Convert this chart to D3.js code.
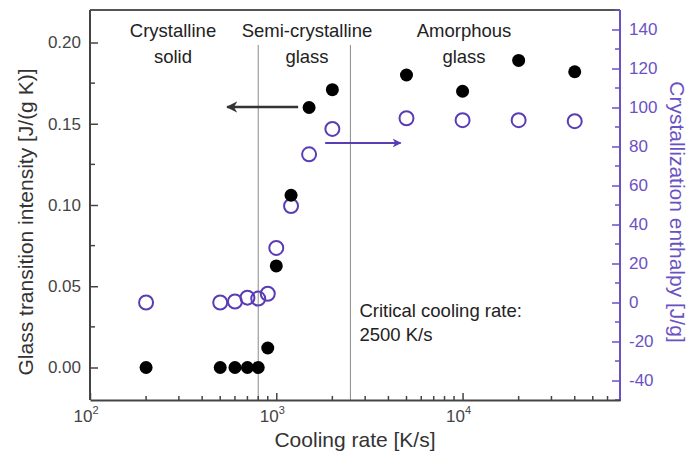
<!DOCTYPE html>
<html><head><meta charset="utf-8">
<script src="https://cdn.jsdelivr.net/npm/d3@7"></script>
<style>
body{margin:0;background:#fff;}
svg{display:block;font-family:"Liberation Sans",Arial,sans-serif;}
</style></head>
<body>
<svg id="chart" width="688" height="463"></svg>
<script>
// ---- data ----
const coolingRates   = [200, 500, 600, 700, 800, 900, 1000, 1200, 1500, 2000, 5000, 10000, 20000, 40000];
const glassIntensity = [0, 0, 0, 0, 0, 0.012, 0.0625, 0.106, 0.160, 0.171, 0.180, 0.170, 0.189, 0.182];
const crystEnthalpy  = [0, 0, 0.5, 2.5, 2, 4.5, 28, 49.5, 76, 89, 94.5, 93.5, 93.5, 93];
const leftTicks  = [0, 0.05, 0.10, 0.15, 0.20];
const leftMinor  = [0.025, 0.075, 0.125, 0.175];
const rightTicks = [-40, -20, 0, 20, 40, 60, 80, 100, 120, 140];
const rightMinor = [-50, -30, -10, 10, 30, 50, 70, 90, 110, 130, 150];
const xMajor = [100, 1000, 10000];
const xLabels = [{base:"10", exp:"2"}, {base:"10", exp:"3"}, {base:"10", exp:"4"}];
const boundaries = [800, 2500];
const regionLabels = [
  {lines:["Crystalline","solid"], x:173},
  {lines:["Semi-crystalline","glass"], x:307},
  {lines:["Amorphous","glass"], x:464}
];

const purple = "#5a3cb4";
const axisPurple = "#6b52c2";

const svg = d3.select("#chart");
const M = {l:90, r:620, t:10, b:400};

const x = d3.scaleLog().domain([100, 70000]).range([M.l, M.r]);
const yL = d3.scaleLinear().domain([-0.02, 0.22]).range([M.b, M.t]);
const yR = d3.scaleLinear().domain([-50, 150]).range([M.b, M.t]);

// boundary lines
svg.selectAll("line.bound").data(boundaries).enter().append("line")
  .attr("x1", d => x(d)).attr("x2", d => x(d))
  .attr("y1", yL(0.1985)).attr("y2", M.b)
  .attr("stroke", "#8a8a8a").attr("stroke-width", 1);

// frame top
svg.append("line").attr("x1", M.l).attr("x2", M.r).attr("y1", M.t).attr("y2", M.t)
  .attr("stroke", "#555").attr("stroke-width", 2);

// left axis
const gL = svg.append("g").attr("transform", `translate(${M.l},0)`)
  .call(d3.axisLeft(yL).tickValues(leftTicks).tickFormat(d3.format(".2f")).tickSize(-8).tickPadding(9).tickSizeOuter(0));
gL.select(".domain").attr("stroke", "#444").attr("stroke-width", 2).attr("d", `M0,${M.t}V${M.b}`);
gL.selectAll(".tick line").attr("stroke", "#444").attr("stroke-width", 1.5);
gL.selectAll(".tick text").attr("font-size", 17).attr("fill", "#444").attr("font-family", "Liberation Sans, Arial, sans-serif");
gL.selectAll("line.minor").data(leftMinor).enter().append("line").attr("class","minor")
  .attr("x1", 0).attr("x2", 5).attr("y1", d => yL(d)).attr("y2", d => yL(d))
  .attr("stroke", "#444").attr("stroke-width", 1.5);

// right axis
const gR = svg.append("g").attr("transform", `translate(${M.r},0)`)
  .call(d3.axisRight(yR).tickValues(rightTicks).tickFormat(d => String(d)).tickSize(-8).tickPadding(9).tickSizeOuter(0));
gR.select(".domain").attr("stroke", axisPurple).attr("stroke-width", 2).attr("d", `M0,${M.t}V${M.b+1}`);
gR.selectAll(".tick line").attr("stroke", axisPurple).attr("stroke-width", 1.5);
gR.selectAll(".tick text").attr("font-size", 17).attr("fill", axisPurple).attr("font-family", "Liberation Sans, Arial, sans-serif");
gR.selectAll("line.minor").data(rightMinor).enter().append("line").attr("class","minor")
  .attr("x1", 0).attr("x2", -5).attr("y1", d => yR(d)).attr("y2", d => yR(d))
  .attr("stroke", axisPurple).attr("stroke-width", 1.5);

// bottom axis
const xMinor = [];
[100, 1000, 10000].forEach(dec => { for (let k = 2; k <= 9; k++) { const v = dec*k; if (v < 70000) xMinor.push(v); } });
const gB = svg.append("g").attr("transform", `translate(0,${M.b})`)
  .call(d3.axisBottom(x).tickValues(xMajor).tickFormat("").tickSize(-7).tickSizeOuter(0));
gB.select(".domain").attr("stroke", "#444").attr("stroke-width", 2);
gB.selectAll(".tick line").attr("stroke", "#444").attr("stroke-width", 1.5);
gB.selectAll("line.minor").data(xMinor).enter().append("line").attr("class","minor")
  .attr("x1", d => x(d)).attr("x2", d => x(d)).attr("y1", 0).attr("y2", -4)
  .attr("stroke", "#444").attr("stroke-width", 1.5);
const xt = gB.selectAll("text.xl").data(xMajor).enter().append("text").attr("class","xl")
  .attr("x", d => x(d) - 4).attr("y", 22).attr("text-anchor", "middle")
  .attr("font-size", 17).attr("fill", "#444");
xt.append("tspan").text((d,i) => xLabels[i].base);
xt.append("tspan").attr("dy", -8).attr("font-size", 11).text((d,i) => xLabels[i].exp);

// axis titles
svg.append("text").attr("transform", `translate(33,222) rotate(-90)`)
  .attr("text-anchor", "middle").attr("font-size", 21).attr("fill", "#333")
  .text("Glass transition intensity [J/(g K)]");
svg.append("text").attr("transform", `translate(670,212) rotate(90)`)
  .attr("text-anchor", "middle").attr("font-size", 21).attr("fill", axisPurple)
  .text("Crystallization enthalpy [J/g]");
svg.append("text").attr("x", 355).attr("y", 447)
  .attr("text-anchor", "middle").attr("font-size", 21).attr("fill", "#333")
  .text("Cooling rate [K/s]");

// region labels
regionLabels.forEach(r => {
  r.lines.forEach((ln, i) => {
    svg.append("text").attr("x", r.x).attr("y", 37 + i*26).attr("text-anchor", "middle")
      .attr("font-size", 18.5).attr("fill", "#222").text(ln);
  });
});

// critical cooling rate text
svg.append("text").attr("x", x(2500) + 9).attr("y", 317).attr("font-size", 18.5).attr("fill", "#222").text("Critical cooling rate:");
svg.append("text").attr("x", x(2500) + 9).attr("y", 341).attr("font-size", 18.5).attr("fill", "#222").text("2500 K/s");

// arrows
const defs = svg.append("defs");
function marker(id, color) {
  defs.append("marker").attr("id", id).attr("viewBox", "0 0 10 10").attr("refX", 9).attr("refY", 5)
    .attr("markerWidth", 4.5).attr("markerHeight", 4.5).attr("orient", "auto")
    .append("path").attr("d", "M0,0L10,5L0,10L3,5Z").attr("fill", color);
}
marker("ab", "#333");
marker("ap", purple);
svg.append("line").attr("x1", x(1310)).attr("x2", x(545)).attr("y1", yL(0.1603)).attr("y2", yL(0.1603))
  .attr("stroke", "#333").attr("stroke-width", 2.5).attr("marker-end", "url(#ab)");
svg.append("line").attr("x1", x(1830)).attr("x2", x(4650)).attr("y1", yR(81.8)).attr("y2", yR(81.8))
  .attr("stroke", purple).attr("stroke-width", 2).attr("marker-end", "url(#ap)");

// open purple circles (right axis)
svg.selectAll("circle.cry").data(coolingRates.map((c,i) => [c, crystEnthalpy[i]])).enter()
  .append("circle").attr("class","cry")
  .attr("cx", d => x(d[0])).attr("cy", d => yR(d[1])).attr("r", 7)
  .attr("fill", "none").attr("stroke", purple).attr("stroke-width", 2);

// filled black points (left axis)
svg.selectAll("circle.gl").data(coolingRates.map((c,i) => [c, glassIntensity[i]])).enter()
  .append("circle").attr("class","gl")
  .attr("cx", d => x(d[0])).attr("cy", d => yL(d[1])).attr("r", 6.5)
  .attr("fill", "#000");
</script>
</body></html>
